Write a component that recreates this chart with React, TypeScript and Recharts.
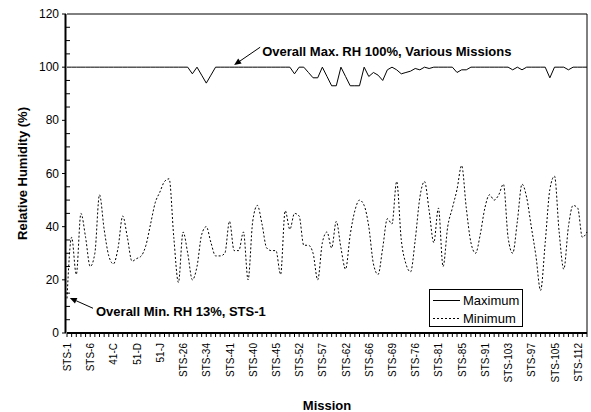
import React from 'react';
import { LineChart, Line, XAxis, YAxis, ReferenceLine, Legend } from 'recharts';

// mission label shown under every 5th flight
const missionLabels = [
  'STS-1', 'STS-6', '41-C', '51-D', '51-J', 'STS-26', 'STS-34', 'STS-41',
  'STS-40', 'STS-45', 'STS-52', 'STS-57', 'STS-62', 'STS-66', 'STS-69',
  'STS-76', 'STS-81', 'STS-85', 'STS-91', 'STS-103', 'STS-97', 'STS-105', 'STS-112',
];

// maximum relative humidity per flight (%)
const maxRH = [
  100, 100, 100, 100, 100, 100, 100, 100, 100, 100,
  100, 100, 100, 100, 100, 100, 100, 100, 100, 100,
  100, 100, 100, 100, 100, 100, 100, 97.5, 100, 97,
  94, 97, 100, 100, 100, 100, 100, 100, 100, 100,
  100, 100, 100, 100, 100, 100, 100, 100, 100, 97.5,
  100, 100, 98, 96, 96, 100, 96.5, 93, 93, 100,
  96.5, 93, 93, 93, 100, 96.5, 98, 97, 95, 99,
  100, 99, 97.5, 98, 98.5, 99.5, 99, 100, 99.5, 100,
  100, 100, 100, 100, 98, 99, 99, 100, 100, 100,
  100, 100, 100, 100, 100, 100, 99, 100, 99, 100,
  100, 100, 100, 100, 96, 100, 100, 100, 99, 100,
  100, 100, 100,
];

// minimum relative humidity per flight (%)
const minRH = [
  13, 36, 22, 45, 36, 25, 30, 52, 39, 29,
  26, 32, 44, 36, 27, 28, 29, 33, 41, 49,
  53, 57, 58, 36, 19, 38, 30, 20, 25, 37,
  40, 34, 29, 29, 30, 42, 31, 31, 38, 20,
  42, 48, 41, 32, 31, 31, 22, 46, 39, 45,
  44, 33, 33, 30, 20, 34, 38, 32, 42, 32,
  24, 37, 46, 50, 48, 40, 26, 22, 32, 43,
  41, 57, 35, 26, 23, 35, 51, 57, 46, 34,
  47, 25, 40, 47, 54, 63, 47, 34, 30, 37,
  47, 52, 50, 52, 56, 36, 30, 42, 56, 51,
  40, 29, 16, 34, 54, 59, 38, 24, 40, 48,
  47, 36, 38,
];

const yTicks = [0, 5, 10, 15, 20, 25, 30, 35, 40, 45, 50, 55, 60, 65, 70, 75, 80, 85, 90, 95, 100, 105, 110, 115, 120];

const FONT = '"Liberation Sans", Arial, sans-serif';

const data = minRH.map((v, i) => ({ idx: i, max: maxRH[i], min: v }));
const xTicks = data.map((d) => d.idx);

const XTick = (props: any) => {
  const { x, y, payload } = props;
  const i = payload.value;
  const label = i % 5 === 0 ? missionLabels[i / 5] : null;
  return (
    <g>
      <line x1={x} y1={y} x2={x} y2={y + 4} stroke="#000" />
      {label && (
        <text
          transform={`translate(${x + 4},${y + 10}) rotate(-90)`}
          textAnchor="end"
          fontFamily={FONT}
          fontSize={10}
          fill="#000"
        >
          {label}
        </text>
      )}
    </g>
  );
};

const YTick = (props: any) => {
  const { x, y, payload } = props;
  const v = payload.value;
  const major = v % 20 === 0;
  return (
    <g>
      {major ? (
        <line x1={x - 5} y1={y} x2={x - 1} y2={y} stroke="#000" />
      ) : (
        <line x1={x - 1} y1={y} x2={x + 3} y2={y} stroke="#000" />
      )}
      {major && (
        <text x={x - 8} y={y + 4} textAnchor="end" fontFamily={FONT} fontSize={12} fill="#000">
          {v}
        </text>
      )}
    </g>
  );
};

// arrow with a bold note starting at the tail
const makeArrow = (label: string, dx: number, dy: number) => (props: any) => {
  const { x1, y1, x2, y2 } = props;
  const ang = Math.atan2(y2 - y1, x2 - x1);
  const bx = x2 - 7 * Math.cos(ang);
  const by = y2 - 7 * Math.sin(ang);
  const px = -Math.sin(ang) * 3;
  const py = Math.cos(ang) * 3;
  return (
    <g>
      <line x1={x1} y1={y1} x2={bx} y2={by} stroke="#000" strokeWidth={1} />
      <polygon points={`${x2},${y2} ${bx + px},${by + py} ${bx - px},${by - py}`} fill="#000" />
      <text x={x1 + dx} y={y1 + dy} fontFamily={FONT} fontSize={13} fontWeight="bold" fill="#000">
        {label}
      </text>
    </g>
  );
};

const LegendBox = () => (
  <svg width={94} height={38} style={{ display: 'block' }}>
    <rect x={0.5} y={0.5} width={93} height={37} fill="#fff" stroke="#000" />
    <line x1={4} x2={31} y1={11.5} y2={11.5} stroke="#000" />
    <text x={34} y={16} fontFamily={FONT} fontSize={13} fill="#000">Maximum</text>
    <line x1={4} x2={31} y1={29.5} y2={29.5} stroke="#000" strokeDasharray="2 2" />
    <text x={34} y={34} fontFamily={FONT} fontSize={13} fill="#000">Minimum</text>
  </svg>
);

export default function App() {
  return (
    <div style={{ position: 'absolute', left: 0, top: 0 }}>
      <LineChart width={591} height={412} data={data} margin={{ top: 14, right: 4, left: 0, bottom: 0 }}>
        <XAxis
          dataKey="idx"
          type="number"
          domain={[0, 112]}
          ticks={xTicks}
          interval={0}
          tickSize={0}
          tickMargin={0}
          tickLine={false}
          tick={XTick}
          height={79}
          axisLine={{ stroke: '#000', strokeWidth: 2 }}
          label={{
            content: (p: any) => (
              <text
                x={p.viewBox.x + p.viewBox.width / 2}
                y={410}
                textAnchor="middle"
                fontFamily={FONT}
                fontSize={13}
                fontWeight="bold"
                fill="#000"
              >
                Mission
              </text>
            ),
          }}
        />
        <YAxis
          type="number"
          domain={[0, 120]}
          ticks={yTicks}
          interval={0}
          tickSize={0}
          tickMargin={0}
          tickLine={false}
          tick={YTick}
          width={67}
          axisLine={{ stroke: '#000', strokeWidth: 2, transform: 'translate(-1.5,0)' }}
          label={{
            content: (p: any) => (
              <text
                transform={`translate(27,${p.viewBox.y + p.viewBox.height / 2}) rotate(-90)`}
                textAnchor="middle"
                fontFamily={FONT}
                fontSize={13}
                fontWeight="bold"
                fill="#000"
              >
                Relative Humidity (%)
              </text>
            ),
          }}
        />
        <ReferenceLine y={120} stroke="#000" strokeWidth={1} />
        <ReferenceLine x={112} stroke="#000" strokeWidth={1} />
        <Line
          dataKey="max"
          type="linear"
          stroke="#000"
          strokeWidth={1}
          dot={false}
          isAnimationActive={false}
        />
        <Line
          dataKey="min"
          type="monotone"
          stroke="#000"
          strokeWidth={1}
          strokeDasharray="2 2"
          dot={false}
          isAnimationActive={false}
        />
        <ReferenceLine
          segment={[{ x: 41.6, y: 107.5 }, { x: 36, y: 100.8 }]}
          shape={makeArrow('Overall Max. RH 100%, Various Missions', 2, 9)}
        />
        <ReferenceLine
          segment={[{ x: 5.6, y: 9.3 }, { x: 0.6, y: 13.2 }]}
          shape={makeArrow('Overall Min. RH 13%, STS-1', 3, 8)}
        />
        <Legend
          layout="vertical"
          align="center"
          verticalAlign="middle"
          content={LegendBox}
          wrapperStyle={{ left: 429, top: 289, width: 94, height: 38 }}
        />
      </LineChart>
    </div>
  );
}
